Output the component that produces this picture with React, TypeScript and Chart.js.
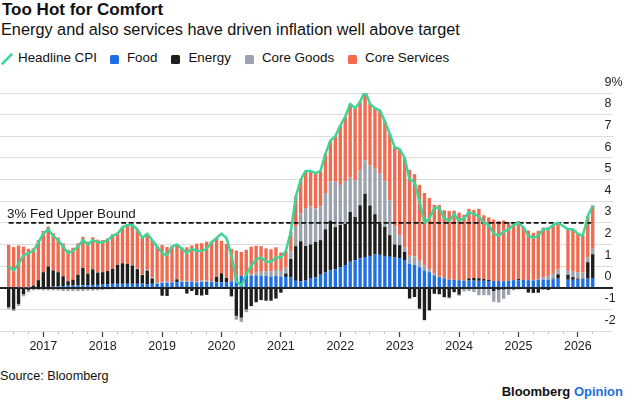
import React, { useEffect, useRef } from 'react';
import { Chart, ChartConfiguration, registerables } from 'chart.js';

Chart.register(...registerables);

// Monthly readings, year-over-year % change and contributions in percentage points.
// October 2025 was never published, so it stays empty.
const months = [
  '2016-06', '2016-07', '2016-08', '2016-09', '2016-10', '2016-11', '2016-12',
  '2017-01', '2017-02', '2017-03', '2017-04', '2017-05', '2017-06', '2017-07', '2017-08', '2017-09', '2017-10', '2017-11', '2017-12',
  '2018-01', '2018-02', '2018-03', '2018-04', '2018-05', '2018-06', '2018-07', '2018-08', '2018-09', '2018-10', '2018-11', '2018-12',
  '2019-01', '2019-02', '2019-03', '2019-04', '2019-05', '2019-06', '2019-07', '2019-08', '2019-09', '2019-10', '2019-11', '2019-12',
  '2020-01', '2020-02', '2020-03', '2020-04', '2020-05', '2020-06', '2020-07', '2020-08', '2020-09', '2020-10', '2020-11', '2020-12',
  '2021-01', '2021-02', '2021-03', '2021-04', '2021-05', '2021-06', '2021-07', '2021-08', '2021-09', '2021-10', '2021-11', '2021-12',
  '2022-01', '2022-02', '2022-03', '2022-04', '2022-05', '2022-06', '2022-07', '2022-08', '2022-09', '2022-10', '2022-11', '2022-12',
  '2023-01', '2023-02', '2023-03', '2023-04', '2023-05', '2023-06', '2023-07', '2023-08', '2023-09', '2023-10', '2023-11', '2023-12',
  '2024-01', '2024-02', '2024-03', '2024-04', '2024-05', '2024-06', '2024-07', '2024-08', '2024-09', '2024-10', '2024-11', '2024-12',
  '2025-01', '2025-02', '2025-03', '2025-04', '2025-05', '2025-06', '2025-07', '2025-08', '2025-09', '2025-10', '2025-11', '2025-12',
  '2026-01', '2026-02', '2026-03', '2026-04',
];

const headlineCpi = [
  1.0, 0.8, 1.1, 1.5, 1.6, 1.7, 2.1,
  2.5, 2.7, 2.4, 2.2, 1.9, 1.6, 1.7, 1.9, 2.2, 2.0, 2.2, 2.1,
  2.1, 2.2, 2.4, 2.5, 2.8, 2.9, 2.9, 2.7, 2.3, 2.5, 2.2, 1.9,
  1.6, 1.5, 1.9, 2.0, 1.8, 1.6, 1.8, 1.7, 1.7, 1.8, 2.1, 2.3,
  2.5, 2.3, 1.5, 0.3, 0.1, 0.6, 1.0, 1.3, 1.4, 1.2, 1.2, 1.4,
  1.4, 1.7, 2.6, 4.2, 5.0, 5.4, 5.4, 5.3, 5.4, 6.2, 6.8, 7.0,
  7.5, 7.9, 8.5, 8.3, 8.6, 9.1, 8.5, 8.3, 8.2, 7.7, 7.1, 6.5,
  6.4, 6.0, 5.0, 4.9, 4.0, 3.0, 3.2, 3.7, 3.7, 3.2, 3.1, 3.4,
  3.1, 3.2, 3.5, 3.4, 3.3, 3.0, 2.9, 2.5, 2.4, 2.6, 2.7, 2.9,
  3.0, 2.8, 2.4, 2.3, 2.4, 2.7, 2.7, 2.9, 3.0, null, 2.7, 2.7,
  2.5, 2.4, 3.3, 3.8,
];

const food = [
  0.04, 0.03, 0.02, 0.01, 0.01, 0.0, 0.0,
  0.02, 0.03, 0.05, 0.07, 0.08, 0.1, 0.1, 0.1, 0.11, 0.12, 0.13, 0.13,
  0.17, 0.17, 0.18, 0.18, 0.18, 0.18, 0.18, 0.18, 0.19, 0.17, 0.18, 0.2,
  0.23, 0.24, 0.25, 0.26, 0.27, 0.28, 0.26, 0.25, 0.26, 0.27, 0.27, 0.25,
  0.25, 0.26, 0.3, 0.47, 0.55, 0.6, 0.57, 0.57, 0.55, 0.55, 0.52, 0.54,
  0.52, 0.5, 0.48, 0.32, 0.3, 0.33, 0.45, 0.47, 0.6, 0.7, 0.8, 0.85,
  0.95, 1.05, 1.2, 1.27, 1.36, 1.42, 1.47, 1.54, 1.52, 1.47, 1.43, 1.4,
  1.37, 1.28, 1.1, 1.05, 0.95, 0.8, 0.72, 0.57, 0.5, 0.43, 0.38, 0.36,
  0.35, 0.32, 0.33, 0.33, 0.32, 0.32, 0.31, 0.31, 0.31, 0.3, 0.33, 0.34,
  0.35, 0.36, 0.35, 0.34, 0.36, 0.37, 0.37, 0.39, 0.42, null, 0.37, 0.37,
  0.37, 0.4, 0.42, 0.45,
];

const energy = [
  -0.9, -1.0, -0.75, -0.3, -0.1, 0.1, 0.35,
  0.7, 0.95, 0.75, 0.65, 0.45, 0.2, 0.27, 0.5, 0.8, 0.53, 0.72, 0.57,
  0.55, 0.6, 0.7, 0.88, 0.95, 0.92, 0.85, 0.68, 0.4, 0.62, 0.25, -0.02,
  -0.37, -0.38, -0.03, 0.13, -0.05, -0.27, -0.15, -0.34, -0.36, -0.33, -0.05, 0.25,
  0.42, 0.19, -0.38, -1.3, -1.38, -1.0, -0.85, -0.67, -0.57, -0.6, -0.6, -0.5,
  -0.23, 0.16, 0.85, 1.6, 1.85, 1.6, 1.55, 1.65, 1.6, 2.0, 2.3, 1.95,
  1.95, 1.9, 2.3, 2.0, 2.45, 2.92, 2.33, 1.86, 1.45, 1.35, 1.0, 0.6,
  0.6, 0.38, -0.5, -0.43, -0.97, -1.5, -1.05, -0.28, -0.3, -0.43, -0.45, -0.2,
  -0.32, -0.05, 0.1, 0.12, 0.12, 0.08, 0.05, -0.15, -0.1, -0.08, -0.05, 0.02,
  0.05, -0.02, -0.22, -0.24, -0.23, -0.08, -0.1, 0.03, 0.2, null, 0.23, 0.12,
  0.05, 0.02, 0.76, 1.1,
];

const coreGoods = [
  -0.08, -0.08, -0.1, -0.1, -0.1, -0.12, -0.1,
  -0.12, -0.12, -0.12, -0.12, -0.15, -0.15, -0.15, -0.15, -0.15, -0.13, -0.13, -0.12,
  -0.1, -0.08, -0.07, -0.05, -0.02, 0.0, 0.02, 0.03, 0.02, 0.04, 0.04, 0.05,
  0.04, 0.06, 0.02, -0.02, 0.05, 0.04, 0.05, 0.06, 0.07, 0.06, 0.04, 0.0,
  -0.02, -0.02, -0.05, -0.18, -0.2, -0.13, 0.05, 0.12, 0.22, 0.22, 0.24, 0.28,
  0.26, 0.27, 0.35, 0.9, 1.3, 1.75, 1.75, 1.55, 1.55, 1.65, 1.8, 2.1,
  1.85, 1.95, 1.6, 1.7, 1.6, 1.54, 1.85, 2.1, 2.3, 2.1, 1.6, 0.85,
  0.45, 0.22, 0.38, 0.4, 0.3, 0.23, 0.15, 0.08, 0.02, -0.03, -0.05, -0.02,
  -0.05, -0.12, -0.15, -0.2, -0.35, -0.35, -0.35, -0.5, -0.58, -0.43, -0.28, -0.12,
  -0.08, -0.03, -0.02, 0.02, 0.05, 0.12, 0.18, 0.22, 0.22, null, 0.22, 0.25,
  0.3, 0.28, 0.22, 0.25,
];

const coreServices = [
  1.94, 1.85, 1.93, 1.89, 1.79, 1.72, 1.85,
  1.9, 1.84, 1.72, 1.6, 1.52, 1.45, 1.48, 1.45, 1.44, 1.48, 1.48, 1.52,
  1.48, 1.51, 1.59, 1.49, 1.69, 1.8, 1.83, 1.81, 1.69, 1.67, 1.73, 1.67,
  1.7, 1.58, 1.66, 1.63, 1.53, 1.55, 1.64, 1.73, 1.73, 1.8, 1.84, 1.8,
  1.5, 1.58, 1.5, 1.25, 1.1, 1.15, 1.28, 1.25, 1.15, 1.05, 1.02, 1.05,
  0.85, 0.77, 0.92, 1.4, 1.55, 1.72, 1.65, 1.63, 1.65, 1.85, 1.9, 2.1,
  2.75, 3.0, 3.4, 3.33, 3.19, 3.22, 2.85, 2.8, 2.93, 2.78, 3.07, 3.65,
  3.98, 4.12, 3.97, 3.8, 3.5, 3.35, 3.28, 3.18, 3.3, 3.15, 3.17, 3.2,
  3.12, 3.05, 3.22, 3.15, 3.21, 2.95, 2.89, 2.84, 2.77, 2.81, 2.7, 2.66,
  2.68, 2.45, 2.29, 2.18, 2.22, 2.29, 2.25, 2.26, 2.16, null, 1.88, 1.96,
  1.78, 1.7, 1.9, 2.0,
];

const FED_UPPER_BOUND = 3;
const Y_MIN = -2;
const Y_MAX = 9;
// visible time window, in fractional years
const X_MIN = 2016.271;
const X_MAX = 2026.322;

const FONT = '"Liberation Sans", Arial, Helvetica, sans-serif';
const COLORS = {
  headline: '#3dd598',
  food: '#1f6fe3',
  energy: '#1e1e1e',
  coreGoods: '#9ba4ae',
  coreServices: '#f26a4f',
};

const monthX = (m: string) => {
  const [y, mo] = m.split('-').map(Number);
  return y + (mo - 1) / 12;
};

const toPoints = (values: (number | null)[]) =>
  months.map((m, i) => ({ x: monthX(m), y: values[i] }));

const fedLabelPlugin = {
  id: 'fedLabel',
  beforeDatasetDraw(chart: Chart, args: { index: number }) {
    // zero line sits over the bars but under the headline line
    if (args.index !== 0) return;
    const { ctx, chartArea, scales } = chart;
    const y0 = Math.round(scales.y.getPixelForValue(0)) + 0.5;
    ctx.save();
    ctx.strokeStyle = '#222';
    ctx.lineWidth = 1.2;
    ctx.beginPath();
    ctx.moveTo(chartArea.left, y0);
    ctx.lineTo(chartArea.right + 16, y0);
    ctx.stroke();
    ctx.restore();
  },
  afterDatasetsDraw(chart: Chart) {
    const { ctx, chartArea, scales } = chart;
    const y = scales.y.getPixelForValue(FED_UPPER_BOUND);
    ctx.save();
    ctx.font = `13.4px ${FONT}`;
    ctx.fillStyle = '#1a1a1a';
    ctx.textBaseline = 'alphabetic';
    ctx.fillText('3% Fed Upper Bound', chartArea.left + 7, y - 5);
    ctx.restore();
  },
};

const LegendSquare = ({ color }: { color: string }) => (
  <span
    style={{
      display: 'inline-block',
      width: 9,
      height: 9,
      borderRadius: 1.5,
      background: color,
      marginRight: 8,
      transform: 'translateY(1px)',
    }}
  />
);

export default function App() {
  const canvasRef = useRef<HTMLCanvasElement>(null);

  useEffect(() => {
    if (!canvasRef.current) return;

    const barCommon = {
      type: 'bar' as const,
      stack: 'components',
      barPercentage: 0.85,
      categoryPercentage: 0.8,
      borderWidth: 0,
    };

    const config: ChartConfiguration = {
      type: 'bar',
      data: {
        datasets: [
          {
            type: 'line',
            label: 'Headline CPI',
            data: toPoints(headlineCpi),
            borderColor: COLORS.headline,
            backgroundColor: COLORS.headline,
            borderWidth: 2.5,
            pointRadius: 0,
            tension: 0,
            spanGaps: true,
            fill: false,
            stack: 'headline',
            borderJoinStyle: 'round',
          },
          {
            type: 'line',
            label: 'Fed upper bound',
            data: [
              { x: monthX(months[0]), y: FED_UPPER_BOUND },
              { x: monthX(months[months.length - 1]), y: FED_UPPER_BOUND },
            ],
            borderColor: '#111',
            borderWidth: 1.8,
            borderDash: [5, 2.5],
            pointRadius: 0,
            fill: false,
            stack: 'fed',
          },
          { ...barCommon, label: 'Food', data: toPoints(food), backgroundColor: COLORS.food },
          { ...barCommon, label: 'Energy', data: toPoints(energy), backgroundColor: COLORS.energy },
          { ...barCommon, label: 'Core Goods', data: toPoints(coreGoods), backgroundColor: COLORS.coreGoods },
          { ...barCommon, label: 'Core Services', data: toPoints(coreServices), backgroundColor: COLORS.coreServices },
        ],
      } as any,
      options: {
        animation: false,
        responsive: true,
        maintainAspectRatio: false,
        layout: { padding: { top: 23, left: 0, right: 0, bottom: 0 } },
        plugins: {
          legend: { display: false },
          tooltip: { enabled: false },
        },
        scales: {
          x: {
            type: 'linear',
            min: X_MIN,
            max: X_MAX,
            stacked: true,
            offset: false,
            afterBuildTicks: (scale: any) => {
              const ticks = [];
              for (let q = Math.ceil(scale.min * 4); q <= Math.floor(scale.max * 4); q++) {
                ticks.push({ value: q / 4 });
              }
              scale.ticks = ticks;
            },
            afterFit: (scale: any) => {
              scale.height = 24;
            },
            border: { display: false },
            grid: {
              offset: false,
              drawOnChartArea: false,
              drawTicks: true,
              tickLength: 6,
              tickColor: (c: any) => (Number.isInteger(c.tick?.value) ? '#444' : '#bdbdbd'),
              tickWidth: (c: any) => (Number.isInteger(c.tick?.value) ? 1.3 : 1),
              tickBorderDash: (c: any) => (Number.isInteger(c.tick?.value) ? [] : [3, 20]),
            } as any,
            ticks: {
              autoSkip: false,
              maxRotation: 0,
              minRotation: 0,
              padding: 2,
              color: '#222',
              font: { family: FONT, size: 12.5 },
              callback: (value: any) => (Number.isInteger(value) ? String(value) : ''),
            },
          },
          y: {
            position: 'right',
            min: Y_MIN,
            max: Y_MAX,
            stacked: true,
            afterFit: (scale: any) => {
              scale.width = 28;
            },
            border: { display: false },
            grid: {
              color: (c: any) => (c.tick?.value === 0 ? '#222' : '#dcdcdc'),
              lineWidth: (c: any) => (c.tick?.value === 0 ? 1.2 : 1),
              drawTicks: true,
              tickLength: 16,
            },
            ticks: {
              stepSize: 1,
              padding: -8.5,
              labelOffset: -10.8,
              color: '#222',
              font: { family: FONT, size: 12.5 },
              callback: (value: any) => (value === Y_MAX ? `${value}%` : String(value)),
            },
          },
        },
      } as any,
      plugins: [fedLabelPlugin as any],
    };

    const chart = new Chart(canvasRef.current, config);
    return () => {
      chart.destroy();
    };
  }, []);

  return (
    <div
      style={{
        position: 'absolute',
        left: 0,
        top: 0,
        width: 625,
        height: 402,
        background: '#fff',
        fontFamily: FONT,
        color: '#111',
        overflow: 'hidden',
      }}
    >
      <div style={{ position: 'absolute', left: 2, top: 0, fontSize: 17, fontWeight: 700, lineHeight: '20px', whiteSpace: 'nowrap' }}>
        Too Hot for Comfort
      </div>
      <div style={{ position: 'absolute', left: 1, top: 20, fontSize: 16.3, lineHeight: '19px', whiteSpace: 'nowrap' }}>
        Energy and also services have driven inflation well above target
      </div>
      <div
        style={{
          position: 'absolute',
          left: 1,
          top: 50,
          display: 'flex',
          alignItems: 'center',
          fontSize: 13.4,
          lineHeight: '16px',
          whiteSpace: 'nowrap',
        }}
      >
        <svg width={12} height={12} style={{ marginRight: 5, transform: 'translateY(1px)' }}>
          <line x1={1.5} y1={10.5} x2={10.5} y2={1.5} stroke={COLORS.headline} strokeWidth={2.5} strokeLinecap="round" />
        </svg>
        <span style={{ marginRight: 13 }}>Headline CPI</span>
        <LegendSquare color={COLORS.food} />
        <span style={{ marginRight: 14 }}>Food</span>
        <LegendSquare color={COLORS.energy} />
        <span style={{ marginRight: 14 }}>Energy</span>
        <LegendSquare color={COLORS.coreGoods} />
        <span style={{ marginRight: 14 }}>Core Goods</span>
        <LegendSquare color={COLORS.coreServices} />
        <span>Core Services</span>
      </div>
      <div style={{ position: 'absolute', left: 0, top: 70, width: 625, height: 285 }}>
        <canvas ref={canvasRef} />
      </div>
      <div style={{ position: 'absolute', left: 0, top: 369, fontSize: 12.7, lineHeight: '15px', whiteSpace: 'nowrap' }}>
        Source: Bloomberg
      </div>
      <div
        style={{
          position: 'absolute',
          right: 2,
          top: 384,
          fontSize: 13,
          fontWeight: 700,
          lineHeight: '15px',
          whiteSpace: 'nowrap',
        }}
      >
        Bloomberg <span style={{ color: '#1c6fdd' }}>Opinion</span>
      </div>
    </div>
  );
}
